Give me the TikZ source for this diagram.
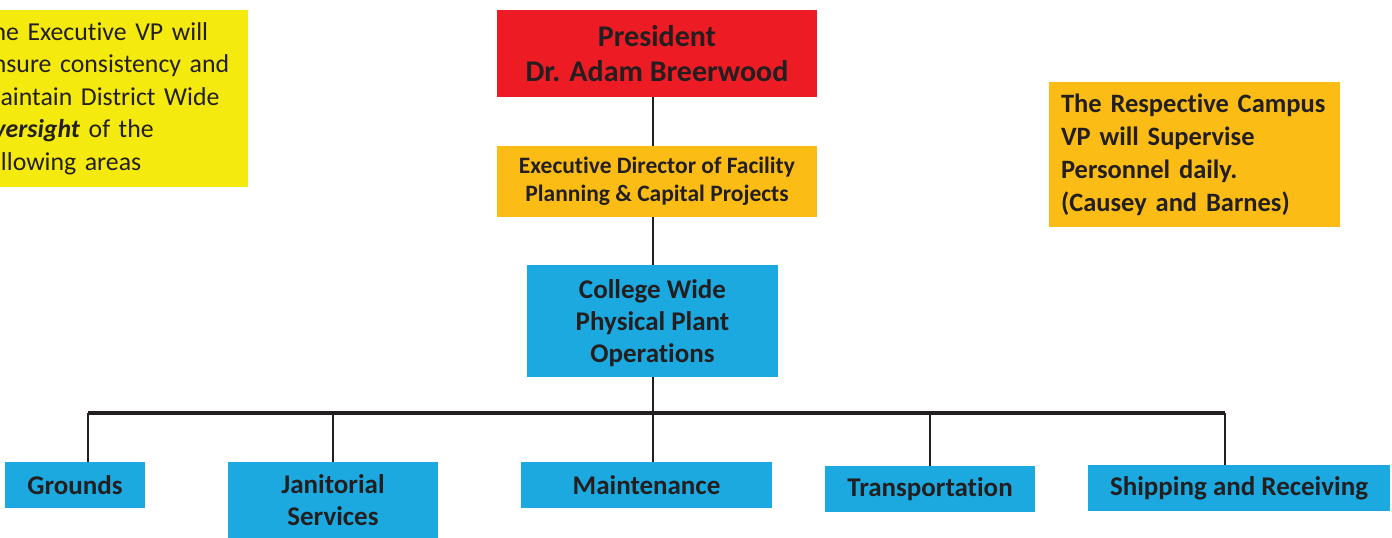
\documentclass[tikz,border=0pt]{standalone}
\usepackage{fontspec}
\setmainfont{Carlito}[Ligatures=NoCommon]
\definecolor{presred}{RGB}{237,28,36}
\definecolor{execorange}{RGB}{250,188,21}
\definecolor{noteyellow}{RGB}{244,234,14}
\definecolor{unitblue}{RGB}{28,169,224}
\definecolor{inkgray}{RGB}{35,31,32}

\begin{document}
\begin{tikzpicture}[x=1pt, y=-1pt,
    box/.style={inner sep=0pt, align=center, text=inkgray, font=\bfseries},
    unit/.style={box, fill=unitblue, font=\bfseries\fontsize{27}{32}\selectfont},
    note/.style={inner ysep=0pt, align=left, text=inkgray},
    wire/.style={draw=inkgray, line width=2.5pt}]
    \useasboundingbox (0,0) rectangle (1392,538);
    \clip (0,0) rectangle (1392,538);
    % Wires first, boxes on top
    \coordinate (busgrounds) at (88,413);
    \coordinate (busjanitor) at (333,413);
    \coordinate (busmaint) at (653,413);
    \coordinate (bustransp) at (930,413);
    \coordinate (busshipping) at (1225,413);
    % Side notes
    \node[note, fill=noteyellow, inner xsep=6pt, text width=262pt, minimum height=177pt,
        font=\fontsize{25.8}{32.5}\selectfont] (notel) at (111,98.5)
        {The Executive VP will\\ ensure consistency and\\ maintain District Wide\\
         \textbf{\textit{oversight}} of the\\ following areas};
    \node[note, fill=execorange, inner xsep=12pt, text width=267pt, minimum height=145pt,
        font=\bfseries\fontsize{26.5}{33}\selectfont] (noter) at (1194.5,154.5)
        {The Respective Campus\\ VP will Supervise\\ Personnel daily.\\ (Causey and Barnes)};
    % Chain of command
    \node[box, fill=presred, minimum width=320pt, minimum height=87pt,
        font=\bfseries\fontsize{30}{35}\selectfont] (pres) at (657,53.5)
        {President\\ Dr. Adam Breerwood};
    \node[box, fill=execorange, minimum width=320pt, minimum height=71pt,
        font=\bfseries\fontsize{23.5}{28}\selectfont] (execdir) at (657,181.5)
        {Executive Director of Facility\\ Planning \& Capital Projects};
    \node[unit, minimum width=251pt, minimum height=112pt, text depth=0pt] (plant) at (652.5,321)
        {College Wide\\ Physical Plant\\ Operations};
    % Units
    \node[unit, minimum width=140pt, minimum height=46pt] (grounds) at (75,485) {Grounds};
    \node[unit, minimum width=210pt, minimum height=76pt] (janitor) at (333,500)
        {Janitorial\\ Services};
    \node[unit, minimum width=251pt, minimum height=46pt] (maint) at (646.5,485) {Maintenance};
    \node[unit, minimum width=210pt, minimum height=46pt] (transp) at (930,489) {Transportation};
    \node[unit, minimum width=302pt, minimum height=46pt] (shipping) at (1239,488)
        {Shipping and Receiving};
    % Wires
    \draw[wire] (pres.south -| busmaint) -- (execdir.north -| busmaint);
    \draw[wire] (execdir.south -| busmaint) -- (plant.north -| busmaint);
    \draw[wire] (plant.south -| busmaint) -- (busmaint);
    \draw[wire, line width=3.5pt] (busgrounds) -- (busshipping);
    \draw[wire] (busgrounds) -- (busgrounds |- grounds.north);
    \draw[wire] (busjanitor) -- (busjanitor |- janitor.north);
    \draw[wire] (busmaint) -- (busmaint |- maint.north);
    \draw[wire] (bustransp) -- (bustransp |- transp.north);
    \draw[wire] (busshipping) -- (busshipping |- shipping.north);
\end{tikzpicture}
\end{document}
